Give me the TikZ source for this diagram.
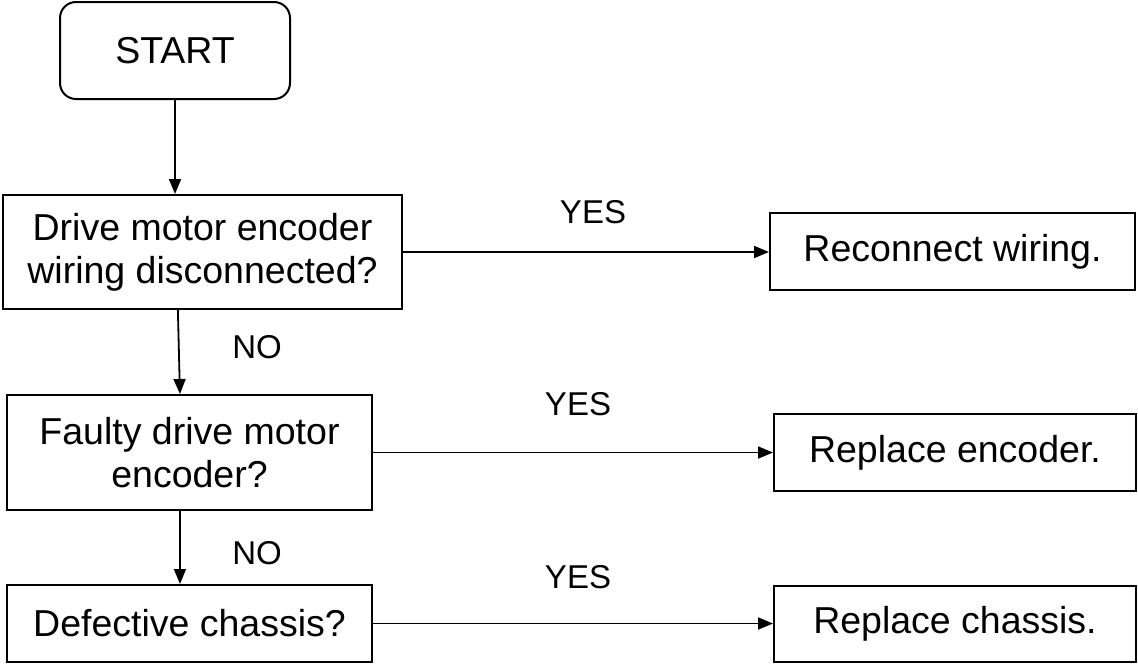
\documentclass[tikz,border=0pt]{standalone}
\usepackage{fontspec}
\setmainfont{Liberation Sans}
\usetikzlibrary{arrows.meta,calc}
\begin{document}
\begin{tikzpicture}[x=1pt,y=-1pt,
  box/.style={draw,line width=2pt,rectangle,inner sep=0pt,align=center,
    font=\fontsize{37.5}{43}\selectfont},
  lbl/.style={font=\fontsize{33}{38}\selectfont,inner sep=0pt},
  conn/.style={line width=1.8pt,-{Triangle[length=15pt,width=12pt]}}]
\useasboundingbox (0,0) rectangle (1138,664);
\node[box,rounded corners=16pt,minimum width=230pt,minimum height=97pt] (start) at (175,50.5) {START};
\node[box,minimum width=399pt,minimum height=114pt] (b1) at (202.5,252) {Drive motor encoder\\wiring disconnected?};
\node[box,minimum width=365pt,minimum height=115pt] (b2) at (189.5,452.5) {Faulty drive motor\\encoder?};
\node[box,minimum width=365pt,minimum height=77pt] (b3) at (189.5,623.5) {Defective chassis?};
\node[box,minimum width=365pt,minimum height=77pt] (r1) at (952.5,251.5) {Reconnect wiring.};
\node[box,minimum width=362pt,minimum height=77pt] (r2) at (955,452.5) {Replace encoder.};
\node[box,minimum width=362pt,minimum height=76pt] (r3) at (955,624) {Replace chassis.};
\draw[conn] (start.south) -- (start.south |- b1.north);
\draw[conn] ($(b1.south west)!0.4386!(b1.south east)$) -- ($(b2.north west)!0.474!(b2.north east)$);
\draw[conn] ($(b2.south west)!0.474!(b2.south east)$) -- ($(b3.north west)!0.474!(b3.north east)$);
\draw[conn] (b1.east) -- (b1.east -| r1.west);
\draw[conn] (b2.east) -- (b2.east -| r2.west);
\draw[conn] (b3.east) -- (b3.east -| r3.west);
\node[lbl] (y1) at (593,212) {YES};
\node[lbl] (y2) at (578,404) {YES};
\node[lbl] (y3) at (578,577) {YES};
\node[lbl] (n1) at (257,347) {NO};
\node[lbl] (n2) at (257,553) {NO};
\end{tikzpicture}
\end{document}
